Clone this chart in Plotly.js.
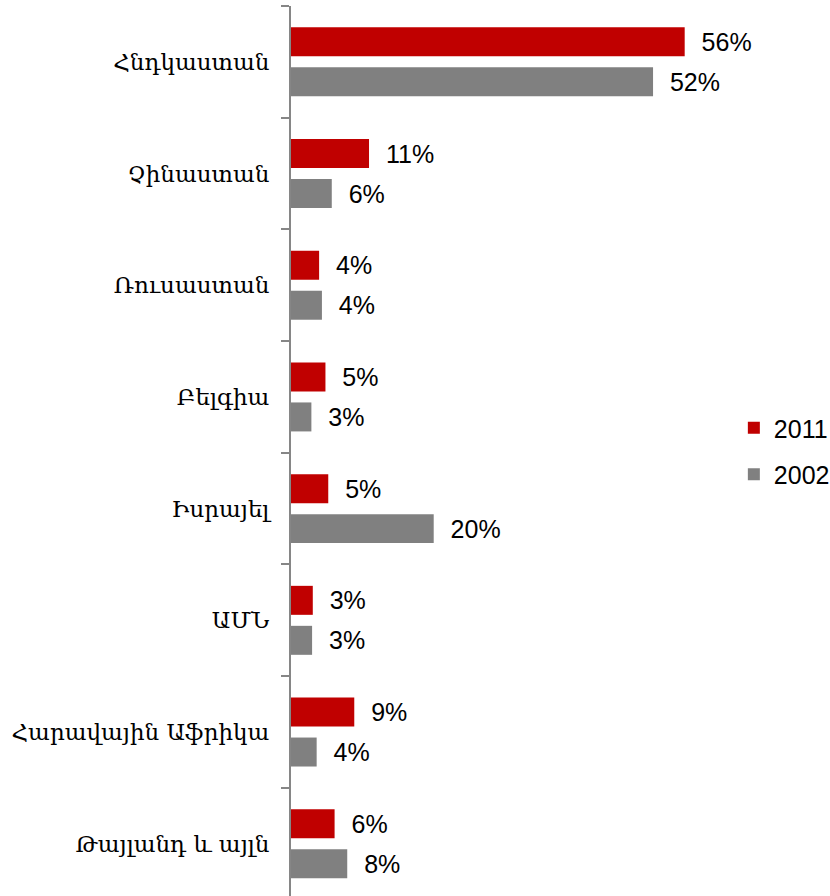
<!DOCTYPE html>
<html>
<head>
<meta charset="utf-8">
<script src="https://cdn.plot.ly/plotly-3.0.1.min.js"></script>
<style>
html,body{margin:0;padding:0;background:#fff;}
#chart{width:830px;height:896px;}
</style>
</head>
<body>
<div id="chart"></div>
<script>
var categories = ["Հնդկաստան", "Չինաստան", "Ռուսաստան", "Բելգիա", "Իսրայել", "ԱՄՆ", "Հարավային Աֆրիկա", "Թայլանդ և այլն"];
var values2011 = [56.0, 11.1, 4.0, 4.9, 5.3, 3.1, 9.0, 6.2];
var values2002 = [51.5, 5.8, 4.4, 2.9, 20.3, 3.0, 3.65, 8.0];
var labels2011 = ["56%", "11%", "4%", "5%", "5%", "3%", "9%", "6%"];
var labels2002 = ["52%", "6%", "4%", "3%", "20%", "3%", "4%", "8%"];

var pad = "\u00a0\u00a0";
var labelFont = {family: "Liberation Sans, Arial, sans-serif", size: 25, color: "#000000"};

var traces = [
  {
    type: "bar", orientation: "h", name: "2011", legendgroup: "a",
    y: categories, x: values2011,
    text: labels2011.map(function(t){return pad + t;}),
    textposition: "outside", cliponaxis: false,
    textfont: labelFont,
    marker: {color: "#C00000"},
    hoverinfo: "skip"
  },
  {
    type: "bar", orientation: "h", name: "2002", legendgroup: "b",
    y: categories, x: values2002,
    text: labels2002.map(function(t){return pad + t;}),
    textposition: "outside", cliponaxis: false,
    textfont: labelFont,
    marker: {color: "#808080"},
    hoverinfo: "skip"
  }
];

var layout = {
  width: 830, height: 896,
  margin: {l: 291, r: 0, t: 6, b: 0, pad: 0, autoexpand: false},
  paper_bgcolor: "#ffffff", plot_bgcolor: "#ffffff",
  barmode: "group", bargap: 0.284, bargroupgap: 0.275,
  showlegend: true,
  legend: {
    x: 1.009, xanchor: "right", y: 0.5, yanchor: "middle",
    font: labelFont, traceorder: "grouped", tracegroupgap: 11,
    bgcolor: "rgba(0,0,0,0)", borderwidth: 0
  },
  xaxis: {visible: false, range: [0, 76.67], fixedrange: true},
  yaxis: {
    type: "category", categoryorder: "array", categoryarray: categories,
    range: [7.468, -0.5], autorange: false,
    showline: true, linecolor: "#868686", linewidth: 2,
    ticks: "outside", ticklen: 8, tickwidth: 2, tickcolor: "#868686",
    tickson: "boundaries", showgrid: false, zeroline: false,
    ticklabelstandoff: 15,
    tickfont: {family: "DejaVu Serif, serif", size: 23, color: "#000000"}
  },
  font: labelFont
};

Plotly.newPlot("chart", traces, layout, {displayModeBar: false, staticPlot: true});
</script>
</body>
</html>
